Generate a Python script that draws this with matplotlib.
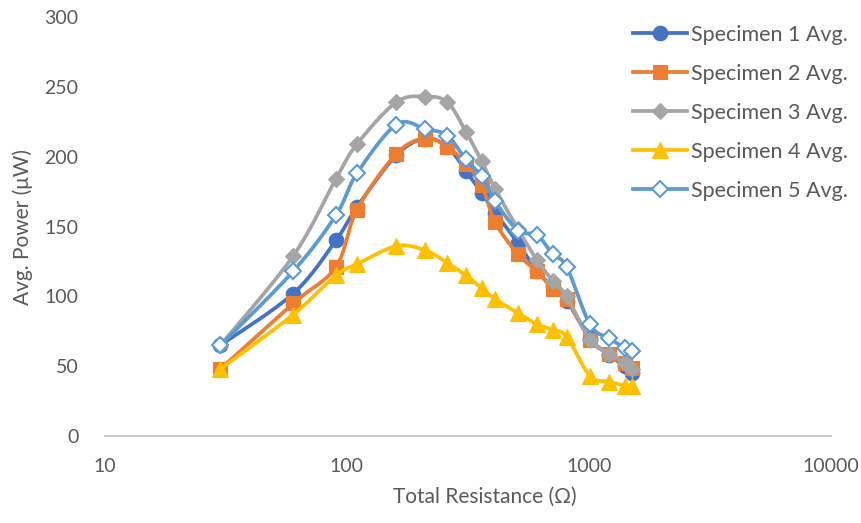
import numpy as np
import matplotlib
matplotlib.use("Agg")
import matplotlib.pyplot as plt

resistance = [30, 60, 90, 110, 160, 210, 260, 310, 360, 410, 510, 610, 710, 810, 1010, 1210, 1410, 1510]
spec1 = [65, 102, 140, 164, 201, 213, 207, 190, 174, 160, 138, 118, 107, 97, 70, 58, 50, 45]
spec2 = [48, 95, 121, 162, 202, 213, 207, 195, 180, 153, 130, 118, 105, 98, 69, 59, 52, 49]
spec3 = [65, 129, 184, 209, 239, 243, 239, 218, 197, 177, 148, 126, 111, 100, 69, 59, 52, 48]
spec4 = [48, 87, 115, 123, 136, 133, 124, 115, 106, 98, 88, 80, 76, 71, 43, 39, 36, 36]
spec5 = [65, 118, 158, 188, 223, 220, 215, 198, 186, 168, 147, 144, 130, 121, 80, 70, 63, 61]
labels = ["Specimen 1 Avg.", "Specimen 2 Avg.", "Specimen 3 Avg.", "Specimen 4 Avg.", "Specimen 5 Avg."]
xticks = [10, 100, 1000, 10000]
yticks = [0, 50, 100, 150, 200, 250, 300]

colors = ["#4472C4", "#ED7D31", "#A5A5A5", "#FFC000", "#5B9BD5"]
markers = ["o", "s", "D", "^", "D"]
msizes = [10.5, 10, 8, 11, 8]


def catmull(xs, ys, n=20):
    u = np.log10(np.asarray(xs, float))
    v = np.asarray(ys, float)
    P = np.column_stack([u, v])
    P = np.vstack([P[0], P, P[-1]])
    out = []
    for i in range(1, len(P) - 2):
        p0, p1, p2, p3 = P[i - 1], P[i], P[i + 1], P[i + 2]
        t = np.linspace(0, 1, n, endpoint=False)[:, None]
        pts = 0.5 * ((2 * p1) + (-p0 + p2) * t + (2 * p0 - 5 * p1 + 4 * p2 - p3) * t ** 2
                     + (-p0 + 3 * p1 - 3 * p2 + p3) * t ** 3)
        out.append(pts)
    out.append(P[-2][None, :])
    out = np.vstack(out)
    return 10 ** out[:, 0], out[:, 1]


plt.rcParams['font.family'] = ['Lato', 'DejaVu Sans']
fig = plt.figure(figsize=(8.62, 5.23), dpi=100)
ax = fig.add_axes([0.1218, 0.1663, 0.842, 0.8012])

series = [spec1, spec2, spec3, spec4, spec5]
for i, s in enumerate(series):
    sx, sy = catmull(resistance, s)
    face = "white" if i == 4 else colors[i]
    mew = 1.5 if i == 4 else 0.8
    ax.plot(sx, sy, color=colors[i], lw=2.7, solid_capstyle='round', zorder=2 + i)
    ax.plot(resistance, s, ls='none', marker=markers[i], ms=msizes[i], mfc=face,
            mec=colors[i], mew=mew, zorder=2 + i)
    ax.plot([], [], color=colors[i], lw=2.7, marker=markers[i], ms=msizes[i],
            mfc=face, mec=colors[i], mew=mew, label=labels[i])

ax.set_xscale('log')
ax.set_xlim(10, 10000)
ax.set_ylim(0, 300)
ax.set_xticks(xticks)
ax.set_xticklabels([str(t) for t in xticks])
ax.xaxis.set_minor_locator(matplotlib.ticker.NullLocator())
ax.set_yticks(yticks)
for sp in ['top', 'right', 'left']:
    ax.spines[sp].set_visible(False)
ax.spines['bottom'].set_color('#BFBFBF')
ax.spines['bottom'].set_linewidth(1.2)
ax.tick_params(axis='both', length=0, labelsize=14, colors='#595959')
ax.tick_params(axis='x', pad=16)
ax.tick_params(axis='y', pad=19)
ax.set_xlabel("Total Resistance (Ω)", fontsize=15, color='#595959')
ax.xaxis.set_label_coords((485 - 105) / 726, -(497 - 436) / 419, transform=ax.transAxes)
ax.xaxis.label.set_va('center')
ax.set_ylabel("Avg. Power (μW)", fontsize=15, color='#595959', labelpad=8)

leg = fig.legend(loc='upper left', bbox_to_anchor=(633 / 862, 1 - 25 / 523), frameon=False,
                 fontsize=15.5, handlelength=2.5, labelspacing=0.88, handletextpad=0.2,
                 borderpad=0, borderaxespad=0)
for t in leg.get_texts():
    t.set_color('#595959')

fig.savefig("out.png", dpi=100)
